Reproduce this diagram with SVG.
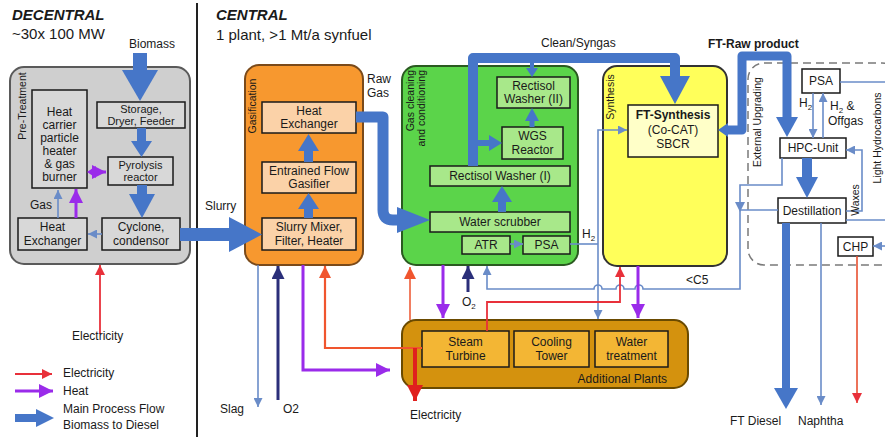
<svg xmlns="http://www.w3.org/2000/svg" width="885" height="437" viewBox="0 0 885 437">
<defs>
<style>
.t{font-family:"Liberation Sans",Arial,sans-serif;font-size:12px;fill:#1a1a1a}
.s{font-size:11px}
.c{text-anchor:middle}
.v{font-size:10.5px}
.h{font-size:15px}
.bx{stroke:#1a1a1a;stroke-width:1.5}
.lb{fill:none;stroke:#6A8CC8;stroke-width:1.6}
.lr{fill:none;stroke:#E8303A;stroke-width:1.8}
.lo{fill:none;stroke:#F0552E;stroke-width:2.2}
.lp{fill:none;stroke:#9A2BEA;stroke-width:3}
.ln{fill:none;stroke:#2B2F7A;stroke-width:3}
.bl{fill:#4676C8}
.pipe{fill:none;stroke:#4676C8;stroke-linejoin:round}
</style>
<marker id="ab" viewBox="0 0 10 10" refX="10" refY="5" markerWidth="9" markerHeight="9" markerUnits="userSpaceOnUse" orient="auto"><path d="M0,0 L10,5 L0,10 z" fill="#6A8CC8"/></marker>
<marker id="ar" viewBox="0 0 10 10" refX="10" refY="5" markerWidth="10" markerHeight="10" markerUnits="userSpaceOnUse" orient="auto"><path d="M0,0 L10,5 L0,10 z" fill="#E8303A"/></marker>
<marker id="ao" viewBox="0 0 10 10" refX="10" refY="5" markerWidth="12" markerHeight="12" markerUnits="userSpaceOnUse" orient="auto"><path d="M0,0 L10,5 L0,10 z" fill="#F0552E"/></marker>
<marker id="ap" viewBox="0 0 10 10" refX="10" refY="5" markerWidth="14" markerHeight="14" markerUnits="userSpaceOnUse" orient="auto"><path d="M0,0 L10,5 L0,10 z" fill="#9A2BEA"/></marker>
<marker id="an" viewBox="0 0 10 10" refX="10" refY="5" markerWidth="13" markerHeight="13" markerUnits="userSpaceOnUse" orient="auto"><path d="M0,0 L10,5 L0,10 z" fill="#2B2F7A"/></marker>
<marker id="ared" viewBox="0 0 10 10" refX="10" refY="5" markerWidth="16" markerHeight="16" markerUnits="userSpaceOnUse" orient="auto"><path d="M0,0 L10,5 L0,10 z" fill="#E0201E"/></marker>
</defs>
<rect width="885" height="437" fill="#ffffff"/>

<!-- headings -->
<text class="t h" x="12" y="20" font-weight="bold" font-style="italic">DECENTRAL</text>
<text class="t h" x="12" y="39">~30x 100 MW</text>
<text class="t h" x="216" y="20" font-weight="bold" font-style="italic">CENTRAL</text>
<text class="t h" x="216" y="40">1 plant, &gt;1 Mt/a synfuel</text>
<line x1="197" y1="3" x2="197" y2="437" stroke="#222" stroke-width="2"/>

<!-- containers -->
<g id="decentral">
<rect x="10" y="67" width="180" height="197" rx="14" fill="#CFCFCF" stroke="#5a5a5a" stroke-width="2"/>
<text class="t v c" transform="translate(26,106) rotate(-90)">Pre-Treatment</text>
</g>
<g id="gasification">
<rect x="245" y="65" width="118" height="200" rx="14" fill="#F7982F" stroke="#7A4A1A" stroke-width="2"/>
<text class="t v c" transform="translate(256,106) rotate(-90)">Gasification</text>
</g>
<g id="gas-cleaning">
<rect x="402" y="66" width="176" height="199" rx="14" fill="#5BD44A" stroke="#2A5A20" stroke-width="2"/>
<text class="t v" text-anchor="end" transform="translate(414,70) rotate(-90)">Gas cleaning</text>
<text class="t v" text-anchor="end" transform="translate(425,70) rotate(-90)">and conditioning</text>
</g>
<g id="synthesis">
<rect x="603" y="66" width="124" height="200" rx="14" fill="#FFFF5A" stroke="#333" stroke-width="2"/>
<text class="t v c" transform="translate(614,97) rotate(-90)">Synthesis</text>
</g>
<g id="external-upgrading">
<rect x="748" y="63" width="150" height="202" rx="16" fill="none" stroke="#7a7a7a" stroke-width="1.5" stroke-dasharray="8,5"/>
<text class="t v c" transform="translate(761,122) rotate(-90)">External Upgrading</text>
<text class="t v c" transform="translate(881,138) rotate(-90)">Light Hydrocarbons</text>
</g>
<g id="additional-plants">
<rect x="402" y="320" width="286" height="68" rx="14" fill="#D4920E" stroke="#6A4A00" stroke-width="2"/>
<text class="t" x="667" y="383" text-anchor="end">Additional Plants</text>
</g>

<!-- nodes: decentral -->
<g id="heat-carrier">
<rect class="bx" x="32" y="90" width="55" height="98" fill="#D8D8D8"/>
<text class="t c" x="59.5" y="116">Heat</text>
<text class="t c" x="59.5" y="129">carrier</text>
<text class="t c" x="59.5" y="142">particle</text>
<text class="t c" x="59.5" y="155">heater</text>
<text class="t c" x="59.5" y="168">&amp; gas</text>
<text class="t c" x="59.5" y="181">burner</text>
</g>
<g id="storage">
<rect class="bx" x="97" y="102" width="88" height="26" fill="#D8D8D8"/>
<text class="t s c" x="141" y="113">Storage,</text>
<text class="t s c" x="141" y="125">Dryer, Feeder</text>
</g>
<g id="pyrolysis">
<rect class="bx" x="108" y="157" width="65" height="28" fill="#D8D8D8"/>
<text class="t s c" x="140.5" y="169">Pyrolysis</text>
<text class="t s c" x="140.5" y="181">reactor</text>
</g>
<g id="heat-exchanger-d">
<rect class="bx" x="18" y="218" width="69" height="32" fill="#D8D8D8"/>
<text class="t c" x="52.5" y="231">Heat</text>
<text class="t c" x="52.5" y="245">Exchanger</text>
</g>
<g id="cyclone">
<rect class="bx" x="102" y="218" width="78" height="32" fill="#D8D8D8"/>
<text class="t c" x="141" y="231">Cyclone,</text>
<text class="t c" x="141" y="245">condensor</text>
</g>

<!-- nodes: gasification -->
<g id="heat-exchanger-g">
<rect class="bx" x="262" y="102" width="94" height="31" fill="#FBD2A8"/>
<text class="t c" x="309" y="115">Heat</text>
<text class="t c" x="309" y="128">Exchanger</text>
</g>
<g id="gasifier">
<rect class="bx" x="262" y="162" width="94" height="31" fill="#FBD2A8"/>
<text class="t c" x="309" y="175">Entrained Flow</text>
<text class="t c" x="309" y="188">Gasifier</text>
</g>
<g id="slurry-mixer">
<rect class="bx" x="262" y="218" width="94" height="32" fill="#FBD2A8"/>
<text class="t c" x="309" y="231">Slurry Mixer,</text>
<text class="t c" x="309" y="245">Filter, Heater</text>
</g>

<!-- nodes: gas cleaning -->
<g id="rectisol-2">
<rect class="bx" x="497" y="77" width="73" height="31" fill="#A8E88A"/>
<text class="t c" x="533.5" y="90">Rectisol</text>
<text class="t c" x="533.5" y="103">Washer (II)</text>
</g>
<g id="wgs">
<rect class="bx" x="502" y="127" width="61" height="32" fill="#A8E88A"/>
<text class="t c" x="532.5" y="140">WGS</text>
<text class="t c" x="532.5" y="154">Reactor</text>
</g>
<g id="rectisol-1">
<rect class="bx" x="430" y="166" width="140" height="20" fill="#A8E88A"/>
<text class="t c" x="500" y="180">Rectisol Washer (I)</text>
</g>
<g id="water-scrubber">
<rect class="bx" x="430" y="212" width="140" height="20" fill="#A8E88A"/>
<text class="t c" x="500" y="226">Water scrubber</text>
</g>
<g id="atr">
<rect class="bx" x="462" y="236" width="48" height="18" fill="#A8E88A"/>
<text class="t c" x="486" y="249">ATR</text>
</g>
<g id="psa-gc">
<rect class="bx" x="523" y="236" width="47" height="18" fill="#A8E88A"/>
<text class="t c" x="546.5" y="249">PSA</text>
</g>

<!-- node: synthesis -->
<g id="ft-synthesis">
<rect class="bx" x="628" y="105" width="90" height="52" fill="#FFFFC8"/>
<text class="t c" x="673" y="119" font-weight="bold">FT-Synthesis</text>
<text class="t c" x="673" y="134">(Co-CAT)</text>
<text class="t c" x="673" y="148">SBCR</text>
</g>

<!-- nodes: upgrading -->
<g id="psa-up">
<rect class="bx" x="802" y="69" width="38" height="24" fill="#fff"/>
<text class="t c" x="821" y="85">PSA</text>
</g>
<g id="hpc">
<rect class="bx" x="780" y="138" width="66" height="20" fill="#fff"/>
<text class="t c" x="813" y="152">HPC-Unit</text>
</g>
<g id="distillation">
<rect class="bx" x="778" y="198" width="68" height="25" fill="#fff"/>
<text class="t c" x="812" y="215">Destillation</text>
</g>
<g id="chp">
<rect class="bx" x="838" y="237" width="35" height="19" fill="#fff"/>
<text class="t c" x="855.5" y="251">CHP</text>
</g>

<!-- nodes: additional plants -->
<g id="steam-turbine">
<rect class="bx" x="422" y="331" width="87" height="36" fill="#F3B634"/>
<text class="t c" x="465.5" y="346">Steam</text>
<text class="t c" x="465.5" y="360">Turbine</text>
</g>
<g id="cooling-tower">
<rect class="bx" x="514" y="331" width="75" height="36" fill="#F3B634"/>
<text class="t c" x="551.5" y="346">Cooling</text>
<text class="t c" x="551.5" y="360">Tower</text>
</g>
<g id="water-treatment">
<rect class="bx" x="595" y="331" width="73" height="36" fill="#F3B634"/>
<text class="t c" x="631.5" y="346">Water</text>
<text class="t c" x="631.5" y="360">treatment</text>
</g>

<!-- connectors -->
<g id="connectors">
<!-- decentral -->
<text class="t c" x="152" y="48">Biomass</text>
<rect class="bl" x="133" y="53" width="14" height="19"/>
<polygon class="bl" points="122,70 158,70 140,101"/>
<rect class="bl" x="137" y="128" width="9" height="15"/>
<polygon class="bl" points="131,141 152,141 141.5,157"/>
<rect class="bl" x="137" y="185" width="10" height="11"/>
<polygon class="bl" points="129,194 155,194 142,218"/>
<path class="lb" d="M102,234 H88" stroke-width="3" marker-end="url(#ab)"/>
<path class="lb" d="M58,218 V190" stroke-width="2" marker-end="url(#ab)"/>
<path class="lp" d="M76,218 V189" stroke-width="2.5" marker-end="url(#ap)"/>
<path class="lp" d="M92,172 H106" stroke-width="4" marker-end="url(#ap)"/>
<polygon points="87,172 96,166 96,178" fill="#9A2BEA"/>
<text class="t" x="30" y="209">Gas</text>
<path class="lr" d="M100,334 V265" marker-end="url(#ar)"/>
<text class="t" x="72" y="340">Electricity</text>
<!-- slurry -->
<rect class="bl" x="180" y="228" width="52" height="13"/>
<polygon class="bl" points="229,217 229,252 262,234.5"/>
<text class="t" x="205" y="210">Slurry</text>
<!-- gasification internal -->
<rect class="bl" x="304" y="149" width="9" height="13"/>
<polygon class="bl" points="298,151 319,151 308.5,134"/>
<rect class="bl" x="304" y="207" width="9" height="11"/>
<polygon class="bl" points="298,209 319,209 308.5,193"/>
<!-- raw gas -->
<path class="pipe" d="M356,117 H383 V210 Q383,220 393,220 H400" stroke-width="11"/>
<polygon class="bl" points="397,207 397,233 430,220"/>
<text class="t" x="367" y="83">Raw</text>
<text class="t" x="367" y="97">Gas</text>
<!-- gasification bottom -->
<path class="lb" d="M258,265 V407" stroke-width="2" marker-end="url(#ab)"/>
<path class="ln" d="M278,400 V266" marker-end="url(#an)"/>
<path class="lp" d="M303,265 V370 H390" stroke-width="2.5" marker-end="url(#ap)"/>
<path class="lo" d="M422,348 H325 V266" marker-end="url(#ao)"/>
<path d="M415,348 V401" fill="none" stroke="#E0201E" stroke-width="4" marker-end="url(#ared)"/>
<text class="t" x="220" y="413">Slag</text>
<text class="t" x="283" y="413">O2</text>
<text class="t" x="410" y="419">Electricity</text>
<!-- gas cleaning internal -->
<path class="pipe" d="M473,166 V58 H675 V80" stroke-width="10"/>
<polygon class="bl" points="660,76 690,76 675,104"/>
<text class="t" x="541" y="47">Clean/Syngas</text>
<path class="pipe" d="M532,63 V70" stroke-width="4"/>
<polygon class="bl" points="526,68 538,68 532,77"/>
<rect class="bl" x="529.5" y="118" width="5" height="9"/>
<polygon class="bl" points="525,121 539,121 532,108"/>
<path class="pipe" d="M478,143 H491" stroke-width="6"/>
<polygon class="bl" points="489,135 489,151 502,143"/>
<rect class="bl" x="498" y="200" width="8" height="12"/>
<polygon class="bl" points="492,202 512,202 502,186"/>
<path class="lb" d="M510,244 H523" stroke-width="2" marker-end="url(#ab)"/>
<!-- H2 line -->
<path class="lb" d="M570,244 H598"/>
<path class="lb" d="M598,244 V130 H627" marker-end="url(#ab)"/>
<path class="lb" d="M598,244 V319" marker-end="url(#ab)"/>
<text class="t" x="582" y="238">H<tspan font-size="8" dy="3">2</tspan></text>
<!-- gas cleaning bottom -->
<path class="lp" d="M443,265 V318" marker-end="url(#ap)"/>
<path d="M410,320 V267" fill="none" stroke="#F07050" stroke-width="1.8" marker-end="url(#ao)"/>
<path class="ln" d="M468,292 V266" stroke-width="2" marker-end="url(#an)"/>
<text class="t" x="462" y="306">O<tspan font-size="8" dy="3">2</tspan></text>
<!-- C5 return -->
<path class="lb" d="M782,158 V185 H740 V289 H643 a4,4 0 0 0 -8,0 H624 a4,4 0 0 0 -8,0 H602 a4,4 0 0 0 -8,0 H487 V266" marker-end="url(#ab)"/>
<path class="lb" d="M778,210 H740"/>
<polygon points="735,202 745,202 740,212" fill="#6A8CC8"/>
<text class="t" x="686" y="284">&lt;C5</text>
<!-- synthesis bottom -->
<path class="lr" d="M487,331 V302 H620 V267" marker-end="url(#ar)"/>
<path class="lp" d="M638,266 V318" stroke-width="2.5" marker-end="url(#ap)"/>
<!-- FT raw product -->
<path class="pipe" d="M726,130 H742 V56 H787 V120" stroke-width="9"/>
<polygon class="bl" points="718,130 728,123 728,137"/>
<polygon class="bl" points="776,117 798,117 787,137"/>
<text class="t" x="708" y="48" font-weight="bold">FT-Raw product</text>
<!-- upgrading internal -->
<path class="lb" d="M813,93 V138" marker-end="url(#ab)"/>
<path class="lb" d="M823,138 V93" marker-end="url(#ab)"/>
<path class="lb" d="M840,82 H885"/>
<text class="t" x="799" y="107">H<tspan font-size="8" dy="3">2</tspan></text>
<text class="t" x="830" y="110">H<tspan font-size="8" dy="3">2</tspan><tspan dy="-3"> &amp;</tspan></text>
<text class="t" x="828" y="125">Offgas</text>
<rect class="bl" x="802" y="158" width="10" height="21"/>
<polygon class="bl" points="796,177 818,177 807,198"/>
<path class="lb" d="M846,211 H862 V150 H846" marker-end="url(#ab)"/>
<text class="t v c" transform="translate(859,200) rotate(-90)">Waxes</text>
<path class="lb" d="M846,220 H885"/>
<path class="lb" d="M885,246 H873" stroke-width="2.5" marker-end="url(#ab)"/>
<path d="M857,256 V403" fill="none" stroke="#E85030" stroke-width="1.6" marker-end="url(#ar)"/>
<rect class="bl" x="782" y="223" width="8" height="167"/>
<polygon class="bl" points="774,388 798,388 786,409"/>
<path class="lb" d="M821,223 V405" stroke-width="2.2" marker-end="url(#ab)"/>
<text class="t" x="730" y="425">FT Diesel</text>
<text class="t" x="798" y="425">Naphtha</text>
</g>

<!-- legend -->
<g id="legend">
<path class="lr" d="M15,374 H52" marker-end="url(#ar)"/>
<text class="t" x="63" y="377">Electricity</text>
<path class="lp" d="M15,391 H53" stroke-width="3.5" marker-end="url(#ap)"/>
<text class="t" x="63" y="395">Heat</text>
<rect class="bl" x="15" y="414" width="23" height="8"/>
<polygon class="bl" points="36,409 36,427 54,418"/>
<text class="t" x="63" y="413">Main Process Flow</text>
<text class="t" x="63" y="429">Biomass to Diesel</text>
</g>
</svg>
